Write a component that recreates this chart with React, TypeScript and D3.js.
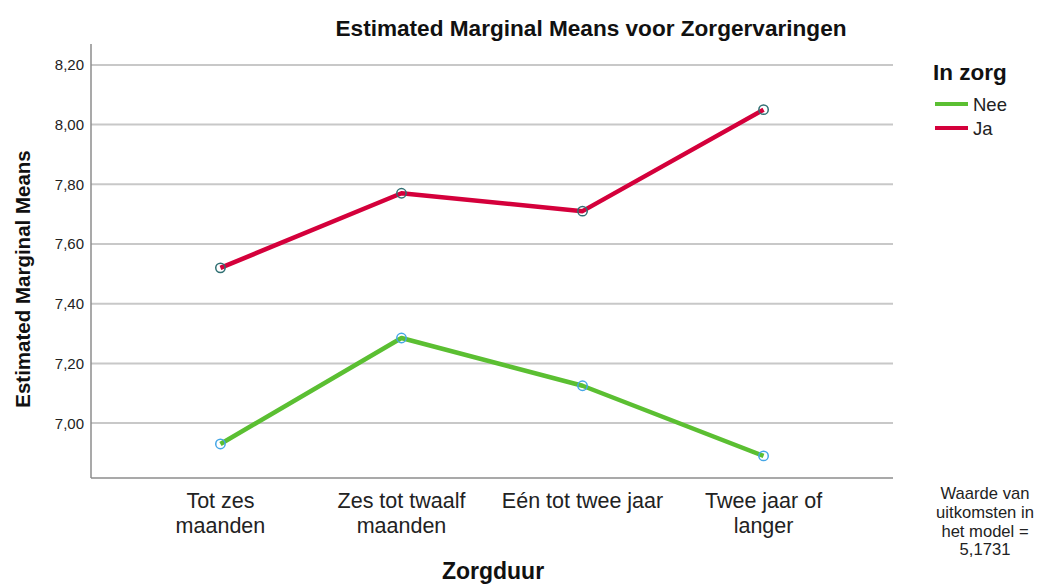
import React, { useRef, useEffect } from 'react';
import * as d3 from 'd3';

const categories = ['Tot zes\nmaanden', 'Zes tot twaalf\nmaanden', 'Eén tot twee jaar', 'Twee jaar of\nlanger'];
const neeValues = [6.93, 7.285, 7.125, 6.89];
const jaValues = [7.52, 7.77, 7.71, 8.05];
const yTicks = [7.0, 7.2, 7.4, 7.6, 7.8, 8.0, 8.2];
const noteLines = ['Waarde van', 'uitkomsten in', 'het model =', '5,1731'];

const App = () => {
  const ref = useRef<SVGSVGElement>(null);
  const width = 1043, height = 585;
  const left = 91, right = 893, top = 44, bottom = 478;

  useEffect(() => {
    const svg = d3.select(ref.current);
    svg.selectAll('*').remove();
    const font = 'Liberation Sans, Arial, sans-serif';

    const x = d3.scalePoint<string>().domain(categories).range([left, right]).padding(0.715);
    const y = d3.scaleLinear().domain([6.816, 8.27]).range([bottom, top]);

    // gridlines
    svg.append('g').selectAll('line').data(yTicks).enter().append('line')
      .attr('x1', left).attr('x2', right)
      .attr('y1', d => y(d)).attr('y2', d => y(d))
      .attr('stroke', '#c8c8c8').attr('stroke-width', 2);

    // axes
    svg.append('line').attr('x1', left).attr('x2', left).attr('y1', top).attr('y2', bottom)
      .attr('stroke', '#8c8c8c').attr('stroke-width', 1.5);
    svg.append('line').attr('x1', left).attr('x2', right).attr('y1', bottom).attr('y2', bottom)
      .attr('stroke', '#8c8c8c').attr('stroke-width', 1.5);

    // y tick labels
    svg.append('g').selectAll('text').data(yTicks).enter().append('text')
      .attr('x', 84).attr('y', d => y(d) + 5.5)
      .attr('text-anchor', 'end').attr('font-family', font).attr('font-size', 15).attr('fill', '#222')
      .text(d => d3.format('.2f')(d).replace('.', ','));

    // x tick labels
    const xl = svg.append('g').selectAll('text').data(categories).enter().append('text')
      .attr('text-anchor', 'middle').attr('font-family', font).attr('font-size', 21.5).attr('fill', '#222');
    xl.each(function (d) {
      const t = d3.select(this);
      d.split('\n').forEach((line, i) => {
        t.append('tspan').attr('x', x(d)!).attr('y', 508 + i * 25).text(line);
      });
    });

    // lines
    const series = [
      { name: 'Nee', values: neeValues, color: '#5bbf32', marker: '#45a6e6' },
      { name: 'Ja', values: jaValues, color: '#d4003b', marker: '#2f6f72' },
    ];
    const line = d3.line<number>().x((_, i) => x(categories[i])!).y(d => y(d));
    series.forEach(s => {
      svg.append('path').datum(s.values).attr('d', line)
        .attr('fill', 'none').attr('stroke', s.color).attr('stroke-width', 4.5).attr('stroke-linejoin', 'round');
      svg.append('g').selectAll('circle').data(s.values).enter().append('circle')
        .attr('cx', (_, i) => x(categories[i])!).attr('cy', d => y(d)).attr('r', 4.7)
        .attr('fill', 'none').attr('stroke', s.marker).attr('stroke-width', 1.5);
    });

    // title
    svg.append('text').attr('x', 591).attr('y', 36).attr('text-anchor', 'middle')
      .attr('font-family', font).attr('font-weight', 'bold').attr('font-size', 22.6).attr('fill', '#111')
      .text('Estimated Marginal Means voor Zorgervaringen');

    // y label
    svg.append('text').attr('transform', `translate(30, 279) rotate(-90)`)
      .attr('text-anchor', 'middle').attr('font-family', font).attr('font-weight', 'bold').attr('font-size', 20.5).attr('fill', '#111')
      .text('Estimated Marginal Means');

    // x label
    svg.append('text').attr('x', 493).attr('y', 579).attr('text-anchor', 'middle')
      .attr('font-family', font).attr('font-weight', 'bold').attr('font-size', 23).attr('fill', '#111')
      .text('Zorgduur');

    // legend
    svg.append('text').attr('x', 933).attr('y', 80)
      .attr('font-family', font).attr('font-weight', 'bold').attr('font-size', 22.5).attr('fill', '#111')
      .text('In zorg');
    series.forEach((s, i) => {
      const ly = 104 + i * 24;
      svg.append('line').attr('x1', 935).attr('x2', 968).attr('y1', ly).attr('y2', ly)
        .attr('stroke', s.color).attr('stroke-width', 4);
      svg.append('text').attr('x', 973).attr('y', ly + 7)
        .attr('font-family', font).attr('font-size', 18.5).attr('fill', '#222').text(s.name);
    });

    // note
    svg.append('g').selectAll('text').data(noteLines).enter().append('text')
      .attr('x', 985).attr('y', (_, i) => 499 + i * 18.8).attr('text-anchor', 'middle')
      .attr('font-family', font).attr('font-size', 16.6).attr('fill', '#222').text(d => d);
  }, []);

  return (
    <svg ref={ref} width={width} height={height}
      style={{ position: 'absolute', left: 0, top: 0, background: '#fff' }} />
  );
};

export default App;
